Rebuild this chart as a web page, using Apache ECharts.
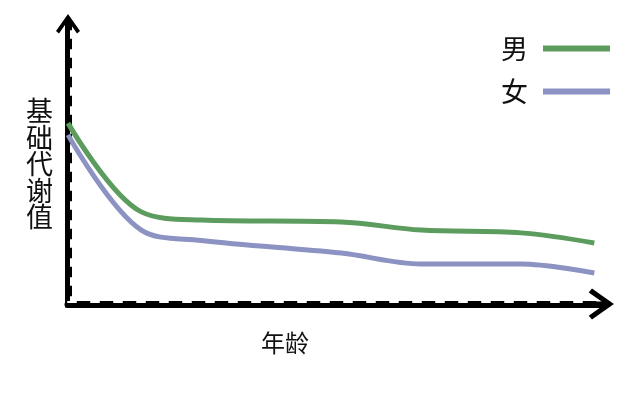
<!DOCTYPE html>
<html>
<head>
<meta charset="utf-8">
<script src="https://cdn.jsdelivr.net/npm/echarts@6/dist/echarts.min.js"></script>
<style>
html,body{margin:0;padding:0;background:#fff;}
#chart{width:640px;height:400px;}
</style>
</head>
<body>
<div id="chart"></div>
<script>
// Data (abstract units: age on x, basal metabolism on y)
const ages = [0, 11, 20, 41, 53, 68, 79];
const maleValues = [64.6, 32.9, 30.0, 29.3, 26.4, 25.4, 21.8];
const femaleValues = [60.4, 26.4, 22.7, 18.2, 14.3, 14.3, 11.1];
const seriesNames = ['男', '女'];
const xAxisTitle = '年龄';
const yAxisTitle = '基础代谢值';

const FONT = "'Noto Sans CJK SC', 'Noto Sans', sans-serif";
const arrowPath = 'path://M12,0 L24,17 L21,19.5 L14,9.5 L14,20 L10,20 L10,9.5 L3,19.5 L0,17 Z';

function pairs(xs, ys) { return xs.map((x, i) => [x, ys[i]]); }

const chart = echarts.init(document.getElementById('chart'), null, {renderer: 'canvas'});
chart.setOption({
  backgroundColor: '#ffffff',
  animation: false,
  title: {
    text: xAxisTitle,
    left: 256, top: 326,
    textStyle: {fontFamily: FONT, fontSize: 24, fontWeight: 'normal', color: '#111'}
  },
  legend: {
    data: seriesNames,
    orient: 'vertical',
    right: 25, top: 29,
    align: 'right',
    icon: 'rect',
    itemWidth: 67, itemHeight: 6,
    itemGap: 14,
    textStyle: {fontFamily: FONT, fontSize: 27, color: '#111', lineHeight: 29, padding: [0, 10, 0, 0]}
  },
  grid: {left: 68, right: 39, top: 24, bottom: 96},
  xAxis: [
    {
      type: 'value', min: 0, max: 80, position: 'bottom',
      axisLine: {show: true, onZero: false, symbol: ['none', arrowPath], symbolSize: [31, 27],
        lineStyle: {color: '#000', width: 7}},
      axisTick: {show: false}, axisLabel: {show: false}, splitLine: {show: false}
    },
    {
      type: 'value', min: 0, max: 80, position: 'bottom', offset: -2.5,
      axisLine: {show: true, onZero: false, lineStyle: {color: '#fff', width: 2, type: [8, 15]}},
      axisTick: {show: false}, axisLabel: {show: false}, splitLine: {show: false}
    }
  ],
  yAxis: [
    {
      type: 'value', min: 0, max: 100, position: 'left',
      name: yAxisTitle.split('').join('\n'),
      nameLocation: 'middle', nameRotate: 0, nameGap: 15,
      nameTextStyle: {fontFamily: FONT, fontSize: 27, lineHeight: 26.5, color: '#111'},
      axisLine: {show: true, onZero: false, symbol: ['none', arrowPath], symbolSize: [24, 20],
        lineStyle: {color: '#000', width: 7, cap: 'square'}},
      axisTick: {show: false}, axisLabel: {show: false}, splitLine: {show: false}
    },
    {
      type: 'value', min: 0, max: 100, position: 'left', offset: -2.5,
      axisLine: {show: true, onZero: false, lineStyle: {color: '#fff', width: 2, type: [7, 12]}},
      axisTick: {show: false}, axisLabel: {show: false}, splitLine: {show: false}
    }
  ],
  series: [
    {
      name: seriesNames[0], type: 'line', xAxisIndex: 0, yAxisIndex: 0,
      data: pairs(ages, maleValues), smooth: 0.35, showSymbol: false,
      color: '#5c9c5e', lineStyle: {width: 5, color: '#5c9c5e'}
    },
    {
      name: seriesNames[1], type: 'line', xAxisIndex: 0, yAxisIndex: 0,
      data: pairs(ages, femaleValues), smooth: 0.35, showSymbol: false,
      color: '#8c92c2', lineStyle: {width: 5, color: '#8c92c2'}
    }
  ]
});
</script>
</body>
</html>
